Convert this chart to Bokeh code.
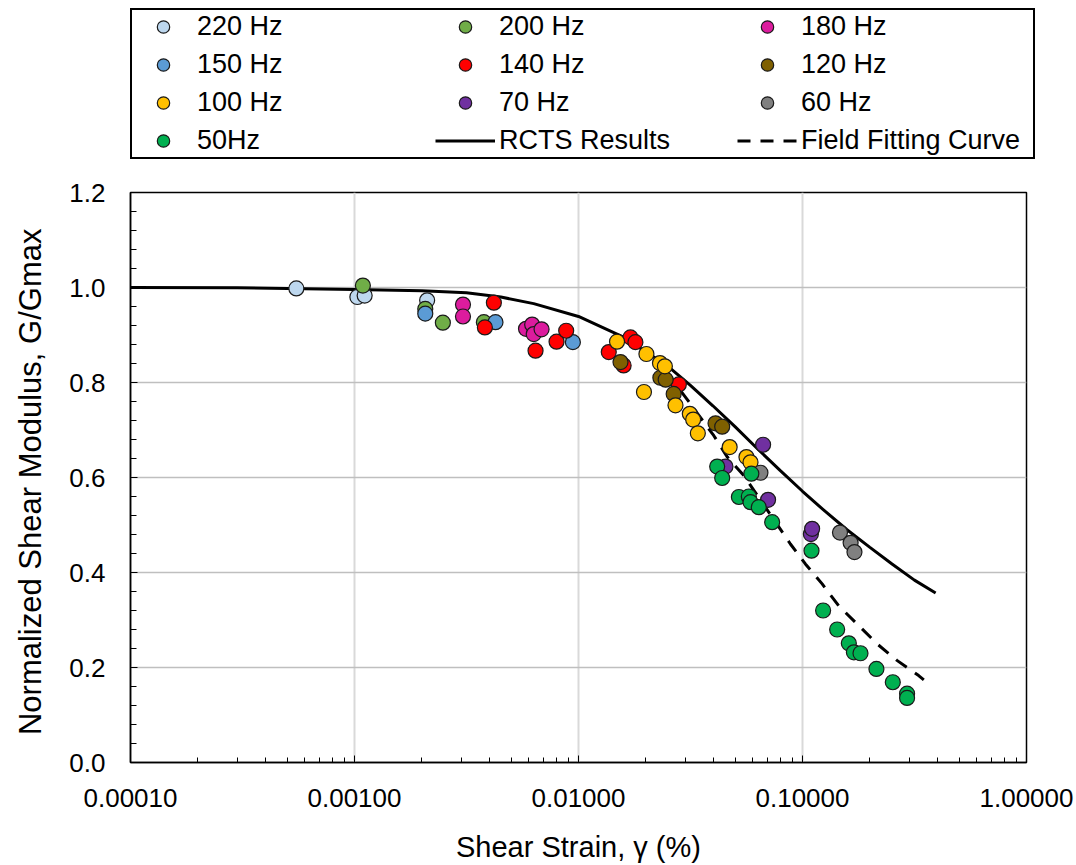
from bokeh.plotting import figure
from bokeh.models import (Range1d, FixedTicker, PrintfTickFormatter, Legend, LegendItem)
from bokeh.embed import file_html
from bokeh.resources import INLINE

FONT = "Liberation Sans"
NAN = float("nan")

# ---------------- data ----------------
hz220_x = [0.00055, 0.00103, 0.00111, 0.00211]
hz220_y = [0.998, 0.980, 0.983, 0.973]

hz200_x = [0.00109, 0.00207, 0.00248, 0.00378]
hz200_y = [1.004, 0.955, 0.926, 0.927]

hz180_x = [0.00305, 0.00305, 0.00583, 0.00621, 0.00631, 0.00684]
hz180_y = [0.964, 0.939, 0.913, 0.922, 0.902, 0.912]

hz150_x = [0.00207, 0.00426, 0.00944]
hz150_y = [0.945, 0.927, 0.885]

hz140_x = [0.00382, 0.00419, 0.00643, 0.00798, 0.00881, 0.01365, 0.0159, 0.01706, 0.01795, 0.02805]
hz140_y = [0.916, 0.968, 0.867, 0.886, 0.909, 0.864, 0.836, 0.895, 0.885, 0.796]

hz120_x = [0.0154, 0.0232, 0.0245, 0.0266, 0.0409, 0.0438]
hz120_y = [0.843, 0.810, 0.806, 0.776, 0.714, 0.707]

hz100_x = [0.01486, 0.0201, 0.0231, 0.0243, 0.0196, 0.0271, 0.0314, 0.0325, 0.0341, 0.0473, 0.0562, 0.0586]
hz100_y = [0.886, 0.860, 0.841, 0.834, 0.780, 0.752, 0.734, 0.722, 0.693, 0.664, 0.643, 0.632]

hz70_x = [0.0453, 0.0667, 0.0702, 0.109, 0.1104]
hz70_y = [0.623, 0.669, 0.553, 0.481, 0.492]

hz60_x = [0.0649, 0.147, 0.164, 0.1706]
hz60_y = [0.610, 0.484, 0.4625, 0.443]

hz50_x = [0.0416, 0.0438, 0.0591, 0.052, 0.0576, 0.0586, 0.0638, 0.0732, 0.1097, 0.1236,
          0.1428, 0.161, 0.1696, 0.1815, 0.2138, 0.253, 0.293, 0.293]
hz50_y = [0.623, 0.599, 0.608, 0.559, 0.560, 0.548, 0.5375, 0.506, 0.446, 0.320,
          0.280, 0.251, 0.232, 0.230, 0.197, 0.169, 0.145, 0.136]

rcts_x = [0.0001, 0.0003, 0.001, 0.002, 0.00316, 0.0045, 0.00631, 0.01, 0.0158, 0.0251,
          0.0316, 0.0398, 0.0501, 0.0631, 0.0794, 0.1, 0.126, 0.158, 0.2, 0.251, 0.316, 0.393]
rcts_y = [1.000, 0.9995, 0.996, 0.993, 0.989, 0.980, 0.966, 0.939, 0.896, 0.834,
          0.794, 0.751, 0.7065, 0.660, 0.615, 0.571, 0.529, 0.490, 0.453, 0.418, 0.384, 0.357]

field_x = [0.025, 0.0402, 0.0462, 0.0547, 0.0883, 0.103, 0.1224, 0.145, 0.175, 0.215, 0.264, 0.33, 0.348]
field_y = [0.820, 0.688, 0.643, 0.604, 0.460, 0.418, 0.376, 0.330, 0.292, 0.250, 0.215, 0.183, 0.174]

series_names = ["220 Hz", "200 Hz", "180 Hz", "150 Hz", "140 Hz", "120 Hz",
                "100 Hz", "70 Hz", "60 Hz", "50Hz"]
series_colors = ["#BDD7EE", "#70AD47", "#DC1C9E", "#5B9BD5", "#FF0000", "#7F6000",
                 "#FFC000", "#7030A0", "#808080", "#00B050"]
series_x = [hz220_x, hz200_x, hz180_x, hz150_x, hz140_x, hz120_x, hz100_x, hz70_x, hz60_x, hz50_x]
series_y = [hz220_y, hz200_y, hz180_y, hz150_y, hz140_y, hz120_y, hz100_y, hz70_y, hz60_y, hz50_y]

x_major = [0.0001, 0.001, 0.01, 0.1, 1.0]
y_major = [0.0, 0.2, 0.4, 0.6, 0.8, 1.0, 1.2]

MARKER = dict(size=15, line_color="#1a1a1a", line_width=1.2)
RCTS_STYLE = dict(line_color="black", line_width=3)
FIELD_STYLE = dict(line_color="black", line_width=3, line_dash="13 10")

# ---------------- main figure ----------------
p = figure(x_axis_type="log", x_range=Range1d(1e-4, 1.0), y_range=Range1d(0.0, 1.2),
           frame_width=896, frame_height=570,
           min_border_left=130, min_border_right=50, min_border_top=20, min_border_bottom=103,
           output_backend="svg", toolbar_location=None, title=None)
p.background_fill_color = "white"
p.border_fill_color = "white"
p.outline_line_color = "black"
p.outline_line_width = 1.5
p.outline_line_alpha = 1.0

p.line(rcts_x, rcts_y, **RCTS_STYLE)
p.line(field_x, field_y, **FIELD_STYLE)
for xs, ys, c in zip(series_x, series_y, series_colors):
    p.scatter(xs, ys, fill_color=c, **MARKER)

x_minor = [m * d for d in x_major[:-1] for m in range(2, 10)]
p.xaxis.ticker = FixedTicker(ticks=x_major, minor_ticks=x_minor)
p.xaxis.formatter = PrintfTickFormatter(format="%.5f")
y_minor = [round(i * 0.04, 2) for i in range(31)]
p.yaxis.ticker = FixedTicker(ticks=y_major, minor_ticks=y_minor)
p.yaxis.formatter = PrintfTickFormatter(format="%.1f")

for ax in (p.xaxis[0], p.yaxis[0]):
    ax.axis_line_color = "black"
    ax.axis_line_width = 1.5
    ax.major_tick_line_color = "black"
    ax.minor_tick_line_color = "black"
    ax.major_tick_out = 0
    ax.minor_tick_out = 0
    ax.major_tick_in = 7
    ax.major_label_text_font = FONT
    ax.major_label_text_font_size = "26px"
    ax.major_label_text_color = "black"
    ax.axis_label_text_font = FONT
    ax.axis_label_text_font_style = "normal"
    ax.axis_label_text_color = "black"

p.xaxis.minor_tick_in = 5
p.yaxis.minor_tick_in = 6
p.xaxis.major_label_standoff = 26
p.yaxis.major_label_standoff = 25
p.xaxis.axis_label = "Shear Strain, γ (%)"
p.xaxis.axis_label_text_font_size = "29px"
p.xaxis.axis_label_standoff = 21
p.yaxis.axis_label = "Normalized Shear Modulus,  G/Gmax"
p.yaxis.axis_label_text_font_size = "31px"
p.yaxis.axis_label_standoff = 18

p.xgrid.grid_line_color = "#D9D9D9"
p.xgrid.grid_line_width = 2
p.ygrid.grid_line_color = "#BFBFBF"
p.ygrid.grid_line_width = 1.5

# ---------------- legend strip (same styles, legend only) ----------------
lg = figure(width=1076, height=172, x_range=Range1d(0, 1), y_range=Range1d(0, 1),
            min_border=0, x_axis_location=None, y_axis_location=None,
            output_backend="svg", toolbar_location=None, title=None)
lg.outline_line_color = None
lg.grid.visible = False
lg.background_fill_color = "white"
lg.border_fill_color = "white"

items = []
for n, c in zip(series_names, series_colors):
    r = lg.scatter(x=[NAN], y=[NAN], fill_color=c, **MARKER)
    items.append(LegendItem(label=n, renderers=[r]))
items.append(LegendItem(label="RCTS Results",
                        renderers=[lg.line(x=[NAN], y=[NAN], **RCTS_STYLE)]))
items.append(LegendItem(label="Field Fitting Curve",
                        renderers=[lg.line(x=[NAN], y=[NAN], **FIELD_STYLE)]))

legend = Legend(items=items, location=(130, 13), orientation="horizontal", ncols=3,
                padding=1, spacing=7, margin=0,
                glyph_width=60, glyph_height=31, label_standoff=4,
                label_width=231, label_height=30,
                label_text_font=FONT, label_text_font_size="27px", label_text_color="black",
                border_line_color="black", border_line_width=2, border_line_alpha=1.0,
                background_fill_color="white", background_fill_alpha=1.0)
lg.add_layout(legend)

open("out.html", "w").write(file_html([lg, p], INLINE))
